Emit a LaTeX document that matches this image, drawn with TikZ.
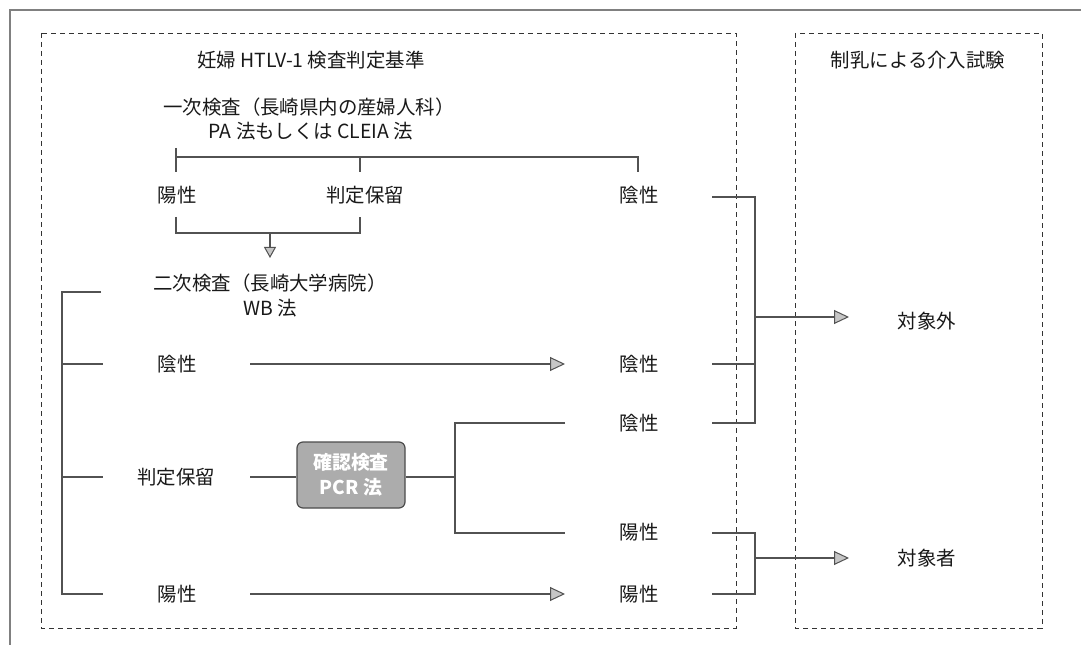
\documentclass[tikz,border=0pt]{standalone}
\usepackage{fontspec}
\setmainfont{Noto Sans CJK JP}
\usetikzlibrary{arrows.meta}
\begin{document}
\begin{tikzpicture}[x=1bp,y=-1bp,
  lbl/.style={font=\fontsize{19.5}{22}\selectfont, inner sep=0pt, text=black!90},
  conn/.style={draw=black!68, line width=2.8bp},
  arr/.style={conn, -{Triangle[length=15bp,width=14bp,fill=gray!45,line width=1bp]}},
  frame/.style={draw=black!80, line width=0.8bp, dash pattern=on 5bp off 4bp},
  pcr/.style={draw=black!70, fill=gray!65, rounded corners=6bp, line width=1.2bp,
              minimum width=108bp, minimum height=66bp, align=center, text=white,
              font=\fontsize{19}{25}\selectfont\bfseries, inner sep=0pt}]
\useasboundingbox (0,0) rectangle (1081,645);
\fill[white] (0,0) rectangle (1081,645);
% scan frame
\draw[black!50, line width=1.2bp] (10,645) -- (10,10) -- (1081,10);
% dashed boxes
\draw[frame] (41,33) rectangle (736,628);
\draw[frame] (795,33) rectangle (1042,628);
% titles
\node[lbl] (t1) at (311,60) {妊婦 HTLV-1 検査判定基準};
\node[lbl] (t2) at (918,60) {制乳による介入試験};
\node[lbl] (p1) at (309,107) {一次検査（長崎県内の産婦人科）};
\node[lbl] (p2) at (311,131) {PA 法もしくは CLEIA 法};
% first test results
\node[lbl] (a1) at (177,195) {陽性};
\node[lbl] (a2) at (365,195) {判定保留};
\node[lbl] (a3) at (639,195) {陰性};
\coordinate (bl) at (176,157);
\coordinate (bm) at (360,157);
\coordinate (br) at (638,157);
\draw[conn] (176,148) -- (176,172);
\draw[conn] (bl) -- (br) -- (638,172);
\draw[conn] (bm) -- (360,172);
\draw[conn] (176,217) -- (176,233) -- (360,233) -- (360,217);
\coordinate (dm) at (270,233);
\node[lbl] (s1) at (270,283) {二次検査（長崎大学病院）};
\node[lbl] (s2) at (270,308) {WB 法};
\draw[draw=black!68, line width=1.8bp, -{Triangle[length=11bp,width=12bp,fill=gray!45,line width=1bp]}] (dm) -- (270,258);
% second test branch
\coordinate (vt) at (62,292);
\coordinate (vb) at (62,594);
\draw[conn] (101,292) -- (vt) -- (vb) -- (103,594);
\draw[conn] (62,364) -- (103,364);
\draw[conn] (62,477) -- (103,477);
\node[lbl] (n1) at (177,364) {陰性};
\node[lbl] (h1) at (176,477) {判定保留};
\node[lbl] (y1) at (177,594) {陽性};
\node[lbl] (n2) at (639,364) {陰性};
\node[lbl] (n3) at (639,423) {陰性};
\node[lbl] (y3) at (639,532) {陽性};
\node[lbl] (y2) at (639,594) {陽性};
\draw[arr] (250,364) -- (565,364);
\draw[arr] (250,594) -- (565,594);
\node[pcr] (pcr) at (351,475) {確認検査\\PCR 法};
\draw[conn] (250,477) -- (pcr.west |- 0,477);
\draw[conn] (pcr.east |- 0,477) -- (455,477);
\draw[conn] (565,423) -- (455,423) -- (455,533) -- (565,533);
% right connectors
\node[lbl] (ex) at (927,321) {対象外};
\node[lbl] (in) at (927,558) {対象者};
\draw[conn] (712,197) -- (755,197) -- (755,423) -- (712,423);
\draw[conn] (712,364) -- (755,364);
\draw[arr] (755,317) -- (849,317);
\draw[conn] (712,533) -- (755,533) -- (755,594) -- (712,594);
\draw[arr] (755,558) -- (849,558);
\end{tikzpicture}
\end{document}
